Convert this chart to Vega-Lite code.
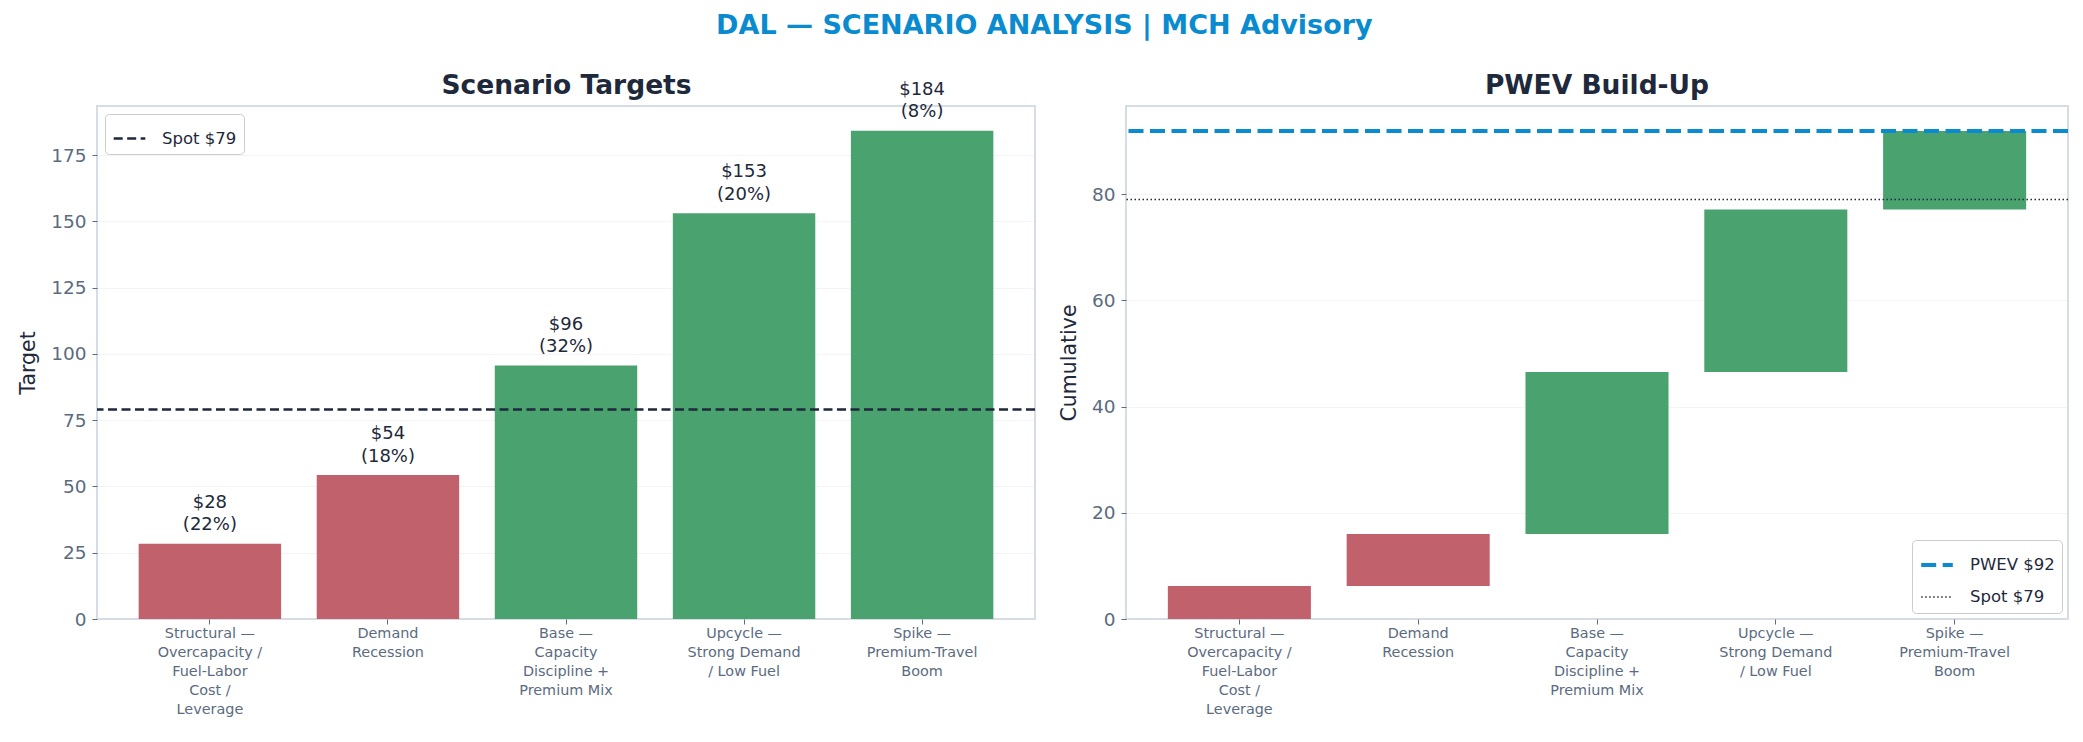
{
  "$schema": "https://vega.github.io/schema/vega-lite/v6.json",
  "background": "white",
  "padding": {"left": 17, "top": 12, "right": 10, "bottom": 5},
  "title": {
    "text": "DAL — SCENARIO ANALYSIS | MCH Advisory",
    "fontSize": 27,
    "fontWeight": "bold",
    "color": "#0a8bcf",
    "anchor": "middle",
    "offset": 31
  },
  "datasets": {
    "scen": [
      {"scenario": "Structural —\nOvercapacity /\nFuel-Labor\nCost /\nLeverage", "target": 28.4, "prob": 0.22, "label": "$28\n(22%)", "lo": 0, "hi": 6.2},
      {"scenario": "Demand\nRecession", "target": 54.3, "prob": 0.18, "label": "$54\n(18%)", "lo": 6.2, "hi": 16.0},
      {"scenario": "Base —\nCapacity\nDiscipline +\nPremium Mix", "target": 95.6, "prob": 0.32, "label": "$96\n(32%)", "lo": 16.0, "hi": 46.5},
      {"scenario": "Upcycle —\nStrong Demand\n/ Low Fuel", "target": 153.0, "prob": 0.20, "label": "$153\n(20%)", "lo": 46.5, "hi": 77.1},
      {"scenario": "Spike —\nPremium-Travel\nBoom", "target": 184.2, "prob": 0.08, "label": "$184\n(8%)", "lo": 77.1, "hi": 91.9}
    ],
    "spotLeft": [
      {"label": "Spot $79", "value": 79}
    ],
    "refsRight": [
      {"label": "PWEV $92", "value": 91.9},
      {"label": "Spot $79", "value": 79}
    ]
  },
  "spacing": 91,
  "bounds": "flush",
  "hconcat": [
    {
      "width": 938,
      "height": 513,
      "layer": [
        {
          "data": {"name": "scen"},
          "mark": {"type": "bar"},
          "encoding": {
            "x": {"field": "scenario", "type": "nominal", "sort": null,
                  "scale": {"paddingInner": 0.2, "paddingOuter": 0.234},
                  "axis": {"title": null, "labelExpr": "split(datum.label, '\\n')"}},
            "y": {"field": "target", "type": "quantitative",
                  "scale": {"domain": [0, 193.5], "nice": false},
                  "axis": {"title": "Target", "values": [0, 25, 50, 75, 100, 125, 150, 175]}},
            "color": {"condition": {"test": "datum.target < 79", "value": "#c1616c"}, "value": "#4aa26f"}
          }
        },
        {
          "data": {"name": "scen"},
          "mark": {"type": "text", "baseline": "bottom", "dy": -32, "fontSize": 18, "color": "#1e293b", "lineBreak": "\n", "lineHeight": 22.5},
          "encoding": {
            "x": {"field": "scenario", "type": "nominal", "sort": null,
                  "axis": {"orient": "top", "labels": false, "ticks": false, "domain": false, "grid": false,
                           "title": "Scenario Targets", "titleFontSize": 26.5, "titleFontWeight": "bold",
                           "titleColor": "#1e293b", "titlePadding": 7}},
            "y": {"field": "target", "type": "quantitative"},
            "text": {"field": "label"}
          }
        },
        {
          "data": {"name": "spotLeft"},
          "mark": {"type": "rule", "strokeWidth": 2.4},
          "encoding": {
            "y": {"field": "value", "type": "quantitative"},
            "color": {"field": "label", "type": "nominal",
                      "scale": {"domain": ["Spot $79"], "range": ["#1e293b"]},
                      "legend": {"title": null, "orient": "top-left"}},
            "strokeDash": {"field": "label", "type": "nominal",
                           "scale": {"domain": ["Spot $79"], "range": [[9, 4.5]]},
                           "legend": {"title": null, "orient": "top-left"}}
          }
        }
      ],
      "resolve": {"axis": {"x": "independent"}}
    },
    {
      "width": 942,
      "height": 513,
      "title": {"text": "PWEV Build-Up", "fontSize": 26.5, "fontWeight": "bold", "color": "#1e293b", "offset": 7},
      "layer": [
        {
          "data": {"name": "scen"},
          "mark": {"type": "bar"},
          "encoding": {
            "x": {"field": "scenario", "type": "nominal", "sort": null,
                  "scale": {"paddingInner": 0.2, "paddingOuter": 0.234},
                  "axis": {"title": null, "labelExpr": "split(datum.label, '\\n')"}},
            "y": {"field": "lo", "type": "quantitative",
                  "scale": {"domain": [0, 96.6], "nice": false},
                  "axis": {"title": "Cumulative", "values": [0, 20, 40, 60, 80]}},
            "y2": {"field": "hi"},
            "color": {"condition": {"test": "datum.target < 79", "value": "#c1616c"}, "value": "#4aa26f"}
          }
        },
        {
          "data": {"name": "refsRight"},
          "mark": {"type": "rule"},
          "encoding": {
            "y": {"field": "value", "type": "quantitative"},
            "color": {"field": "label", "type": "nominal",
                      "scale": {"domain": ["PWEV $92", "Spot $79"], "range": ["#0a8bcf", "#1e293b"]},
                      "legend": {"title": null, "orient": "bottom-right", "offset": 6}},
            "strokeDash": {"field": "label", "type": "nominal",
                           "scale": {"domain": ["PWEV $92", "Spot $79"], "range": [[15, 6.5], [1.5, 2.5]]},
                           "legend": {"title": null, "orient": "bottom-right", "offset": 6}},
            "strokeWidth": {"field": "label", "type": "nominal",
                            "scale": {"domain": ["PWEV $92", "Spot $79"], "range": [4, 1.5]},
                            "legend": null}
          }
        }
      ]
    }
  ],
  "resolve": {
    "scale": {"color": "independent", "strokeDash": "independent", "strokeWidth": "independent", "x": "independent", "y": "independent"},
    "legend": {"color": "independent", "strokeDash": "independent"}
  },
  "config": {
    "font": "DejaVu Sans",
    "view": {"stroke": "#d5dce6", "strokeWidth": 2},
    "axis": {
      "labelFontSize": 18.5,
      "labelColor": "#5b6b80",
      "tickColor": "#5b6b80",
      "tickSize": 5,
      "domain": false,
      "gridColor": "#e0e0e0",
      "gridOpacity": 0.35,
      "titleFontSize": 20.5,
      "titleFontWeight": "normal",
      "titleColor": "#1e293b",
      "zindex": 1
    },
    "axisY": {"titlePadding": 12, "labelPadding": 6},
    "axisX": {"labelFontSize": 14.4, "labelAngle": 0, "labelLimit": 0, "grid": false, "labelPadding": 2, "labelLineHeight": 19, "labelBaseline": "top"},
    "legend": {
      "offset": 8,
      "padding": 7,
      "strokeColor": "#cccccc",
      "fillColor": "white",
      "cornerRadius": 4,
      "labelFontSize": 16.5,
      "labelColor": "#1e293b",
      "symbolType": "stroke",
      "symbolSize": 1000,
      "symbolStrokeWidth": 2.5,
      "labelOffset": 15,
      "rowPadding": 6
    }
  }
}
